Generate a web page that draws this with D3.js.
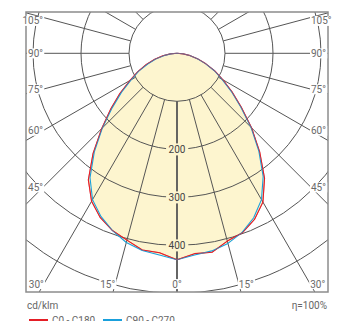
<!DOCTYPE html>
<html>
<head>
<meta charset="utf-8">
<script src="https://cdn.jsdelivr.net/npm/d3@7"></script>
<style>
  html, body { margin: 0; padding: 0; background: #fff; }
  svg { display: block; font-family: Roboto, "Noto Sans", sans-serif; }
</style>
</head>
<body>
<svg id="chart" width="346" height="321"></svg>
<script>
// ---- data ----
const gammaAngles = [0, 5, 10, 15, 20, 25, 30, 35, 40, 45, 50, 55, 60, 65, 70, 75, 80, 85, 90];
// C0-C180 (red): right half C0, left half C180, cd/klm
const c0Values   = [430, 419, 421, 405, 398, 382, 358, 318, 268, 220, 175, 140, 110, 87, 64, 45, 28, 13, 0];
const c180Values = [430, 417, 416, 403, 393, 378, 356, 322, 272, 222, 180, 145, 113, 90, 68, 48, 30, 14, 0];
// C90-C270 (blue): right half C90, left half C270
const c90Values  = [430, 422, 418, 410, 397, 378, 352, 313, 265, 218, 173, 138, 108, 86, 63, 44, 27, 12, 0];
const c270Values = [430, 422, 417, 408, 393, 375, 352, 316, 268, 220, 176, 141, 110, 88, 65, 46, 28, 13, 0];
const ringValues = [100, 200, 300, 400, 500, 600];
const ringLabels = [200, 300, 400];
const spokeAngles = [0, 15, 30, 45, 60, 75, 90, 105, 120, 135, 150, 165, 180];
const degreeLabels = [0, 15, 30, 45, 60, 75, 90, 105];
const seriesNames = ["C0 - C180", "C90 - C270"];
const seriesColors = ["#e41e26", "#1aa0dc"];
const unitLabel = "cd/klm";
const efficiencyLabel = "η=100%";

// ---- layout ----
const svg = d3.select("#chart");
const cx = 177, cy = 53.3;
const frame = {x: 26, y: 12, w: 302, h: 280};
const fillColor = "#fdf5cf";
const gridColor = "#555";
const r = d3.scaleLinear().domain([0, 100]).range([0, 48]);
const toRad = d3.scaleLinear().domain([0, 180]).range([0, Math.PI]);

svg.append("defs").append("clipPath").attr("id", "frameClip")
  .append("rect").attr("x", frame.x).attr("y", frame.y).attr("width", frame.w).attr("height", frame.h);

const g = svg.append("g").attr("clip-path", "url(#frameClip)");
const polar = g.append("g").attr("transform", `translate(${cx},${cy})`);

// build closed polygon: left half from 90 down to 0, then right half 0 to 90
function buildPoints(leftVals, rightVals) {
  const pts = [];
  for (let i = gammaAngles.length - 1; i >= 0; i--) pts.push({a: Math.PI + toRad(gammaAngles[i]), v: leftVals[i]});
  for (let i = 1; i < gammaAngles.length; i++) pts.push({a: Math.PI - toRad(gammaAngles[i]), v: rightVals[i]});
  return pts;
}
const radial = d3.lineRadial().angle(d => d.a).radius(d => r(d.v)).curve(d3.curveLinearClosed);
const redPts = buildPoints(c180Values, c0Values);
const bluePts = buildPoints(c270Values, c90Values);

// fill (union of both approx: use the larger of each)
const fillPts = redPts.map((p, i) => ({a: p.a, v: Math.max(p.v, bluePts[i].v)}));
polar.append("path").attr("d", radial(fillPts)).attr("fill", fillColor).attr("stroke", "none");

// rings
ringValues.forEach(v => {
  polar.append("circle").attr("r", r(v)).attr("fill", "none")
    .attr("stroke", gridColor).attr("stroke-width", 1);
});

// spokes (from r=100 outward), both sides
const spokeLen = r(700);
spokeAngles.forEach(d => {
  [-1, 1].forEach(side => {
    if ((d === 0 || d === 180) && side === 1) return;
    const t = toRad(d);
    const sx = side * Math.sin(t), sy = Math.cos(t);
    polar.append("line")
      .attr("x1", sx * r(100)).attr("y1", sy * r(100))
      .attr("x2", sx * spokeLen).attr("y2", sy * spokeLen)
      .attr("stroke", gridColor)
      .attr("stroke-width", d === 0 ? 1.8 : 1);
  });
});

// curves
[[redPts, seriesColors[0]], [bluePts, seriesColors[1]]].forEach(([pts, col]) => {
  polar.append("path").attr("d", radial(pts)).attr("fill", "none")
    .attr("stroke", col).attr("stroke-width", 1.1).attr("stroke-linejoin", "round");
});
// red drawn over blue at bottom? draw red again lightly
polar.append("path").attr("d", radial(redPts)).attr("fill", "none")
  .attr("stroke", seriesColors[0]).attr("stroke-width", 0.9).attr("opacity", 0.6);

// ring labels with background
ringLabels.forEach(v => {
  const t = polar.append("text").attr("x", 0).attr("y", r(v)).attr("dy", "0.36em")
    .attr("text-anchor", "middle").attr("font-size", 10).attr("fill", "#444").text(v);
  const b = t.node().getBBox();
  polar.insert("rect", () => t.node())
    .attr("x", b.x - 2.5).attr("y", b.y - 0.5).attr("width", b.width + 5).attr("height", b.height + 1)
    .attr("fill", fillColor);
});

// frame
svg.append("rect").attr("x", frame.x).attr("y", frame.y).attr("width", frame.w).attr("height", frame.h)
  .attr("fill", "none").attr("stroke", "#8c8c8c").attr("stroke-width", 1.5);

// degree labels placed where spokes meet an inset rectangle
const inset = {left: cx - 134, right: cx + 134, bottom: 284, top: 20.8};
const lab = svg.append("g");
degreeLabels.forEach(d => {
  [-1, 1].forEach(side => {
    if (d === 0 && side === 1) return;
    const t = toRad(d);
    const sx = side * Math.sin(t), sy = Math.cos(t);
    let px, py, anchor;
    if (d === 0) { px = cx; py = inset.bottom; anchor = "middle"; }
    else {
      const tx = Math.abs((side < 0 ? inset.left : inset.right) - cx) / Math.abs(sx);
      const ty = sy > 1e-6 ? (inset.bottom - cy) / sy : Infinity;
      const tt = Math.min(tx, ty);
      px = cx + sx * tt; py = cy + sy * tt;
      if (py > inset.bottom) py = inset.bottom;
      if (py < inset.top) py = inset.top;
      anchor = side < 0 ? "end" : "start";
    }
    const txt = lab.append("text").attr("x", px).attr("y", py).attr("dy", "0.36em")
      .attr("text-anchor", anchor).attr("font-size", 10).attr("fill", "#6a6a6a").text(d + "°");
    const b = txt.node().getBBox();
    lab.insert("rect", () => txt.node())
      .attr("x", b.x - 1).attr("y", b.y + 0.5).attr("width", b.width + 2).attr("height", b.height - 1)
      .attr("fill", "#fff");
  });
});

// bottom texts
svg.append("text").attr("x", 27).attr("y", 308.5).attr("font-size", 10).attr("fill", "#666").text(unitLabel);
svg.append("text").attr("x", 327).attr("y", 308.5).attr("text-anchor", "end").attr("font-size", 10).attr("fill", "#666").text(efficiencyLabel);

// legend
const legX = [29, 103];
seriesNames.forEach((name, i) => {
  svg.append("rect").attr("x", legX[i]).attr("y", 319).attr("width", 19).attr("height", 3).attr("fill", seriesColors[i]);
  svg.append("text").attr("x", legX[i] + 23).attr("y", 324).attr("font-size", 10).attr("fill", "#666").text(name);
});
</script>
</body>
</html>
